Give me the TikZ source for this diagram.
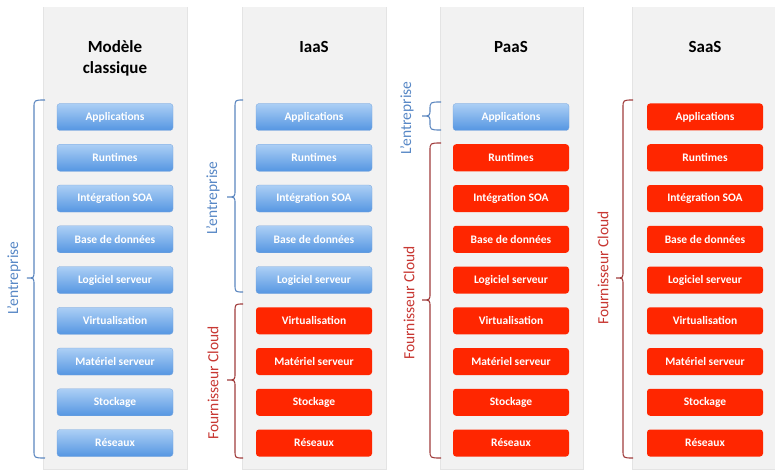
\documentclass[tikz,border=0pt]{standalone}
\usepackage{fontspec}
\setmainfont{Carlito}
\definecolor{panelgray}{RGB}{242,242,242}
\definecolor{shadowgray}{RGB}{228,228,228}
\definecolor{bluetop}{RGB}{172,207,245}
\definecolor{bluebot}{RGB}{85,150,226}
\definecolor{blueedge}{RGB}{120,165,220}
\definecolor{cloudred}{RGB}{255,38,0}
\definecolor{bracblue}{RGB}{92,135,192}
\definecolor{labblue}{RGB}{88,136,198}
\definecolor{bracred}{RGB}{160,60,60}
\definecolor{labred}{RGB}{200,55,50}
\newcommand{\mybrace}[7]{%
  \draw[#7, line width=1.1pt] (#1,#4) .. controls (#2,#4) .. (#2,{#4+8}) -- (#2,{#5-7})
    .. controls (#2,#5) .. (#3,#5) .. controls (#2,#5) .. (#2,{#5+7}) -- (#2,{#6-8})
    .. controls (#2,#6) .. (#1,#6);}
\begin{document}
\begin{tikzpicture}[x=1pt,y=-1pt,
  panel/.style={fill=panelgray, draw=none},
  bbox/.style={rounded corners=3pt, minimum width=116pt, minimum height=27pt, inner sep=0pt,
    text=white, font=\bfseries\fontsize{11.5}{13}\selectfont},
  blue box/.style={bbox, top color=bluetop, bottom color=bluebot, draw=blueedge, line width=0.3pt},
  red box/.style={bbox, fill=cloudred},
  title/.style={font=\bfseries\fontsize{17}{21}\selectfont, align=center, text=black},
  lab/.style={rotate=90, font=\fontsize{15.5}{18}\selectfont}]
\useasboundingbox (0,0) rectangle (775,473);
\fill[white] (0,0) rectangle (775,473);
% panels
\foreach \xa/\xb in {44/187, 243/386, 441/583, 633/777}{
  \fill[shadowgray] ({\xa-1.5},7) rectangle ({\xb+0.8},{470});
  \fill[panel] (\xa,7) rectangle (\xb,468.5);
}
% titles
\node[title] (t1) at (115,58) {Modèle\\classique};
\node[title] (t2) at (314,47) {IaaS};
\node[title] (t3) at (511,47) {PaaS};
\node[title] (t4) at (705,47) {SaaS};
% boxes
\foreach \cx/\nb/\pn in {115/9/a, 314/5/b, 511/1/c, 705/0/d}{
  \foreach \t [count=\i] in {Applications, Runtimes, Intégration SOA, Base de données,
      Logiciel serveur, Virtualisation, Matériel serveur, Stockage, Réseaux}{
    \pgfmathsetmacro{\yy}{117+40.75*(\i-1)}
    \ifnum\i>\nb
      \node[red box] (\pn\i) at (\cx,\yy) {\t};
    \else
      \node[blue box] (\pn\i) at (\cx,\yy) {\t};
    \fi
  }
}
% braces and labels
\mybrace{45}{34}{27}{100}{278}{458}{bracblue}
\node[lab, text=labblue] (l1) at (14,278) {L’entreprise};
\mybrace{243}{235}{227}{100}{197}{292}{bracblue}
\node[lab, text=labblue] (l2) at (213,198) {L’entreprise};
\mybrace{243}{235}{227}{304}{380}{458}{bracred}
\node[lab, text=labred] (l3) at (213,383) {Fournisseur Cloud};
\mybrace{441}{430}{422}{102}{116}{130}{bracblue}
\node[lab, text=labblue] (l4) at (407,118) {L’entreprise};
\mybrace{441}{430}{422}{143}{300}{458}{bracred}
\node[lab, text=labred] (l5) at (409,303) {Fournisseur Cloud};
\mybrace{633}{623}{616}{100}{278}{458}{bracred}
\node[lab, text=labred] (l6) at (603,268) {Fournisseur Cloud};
\end{tikzpicture}
\end{document}
